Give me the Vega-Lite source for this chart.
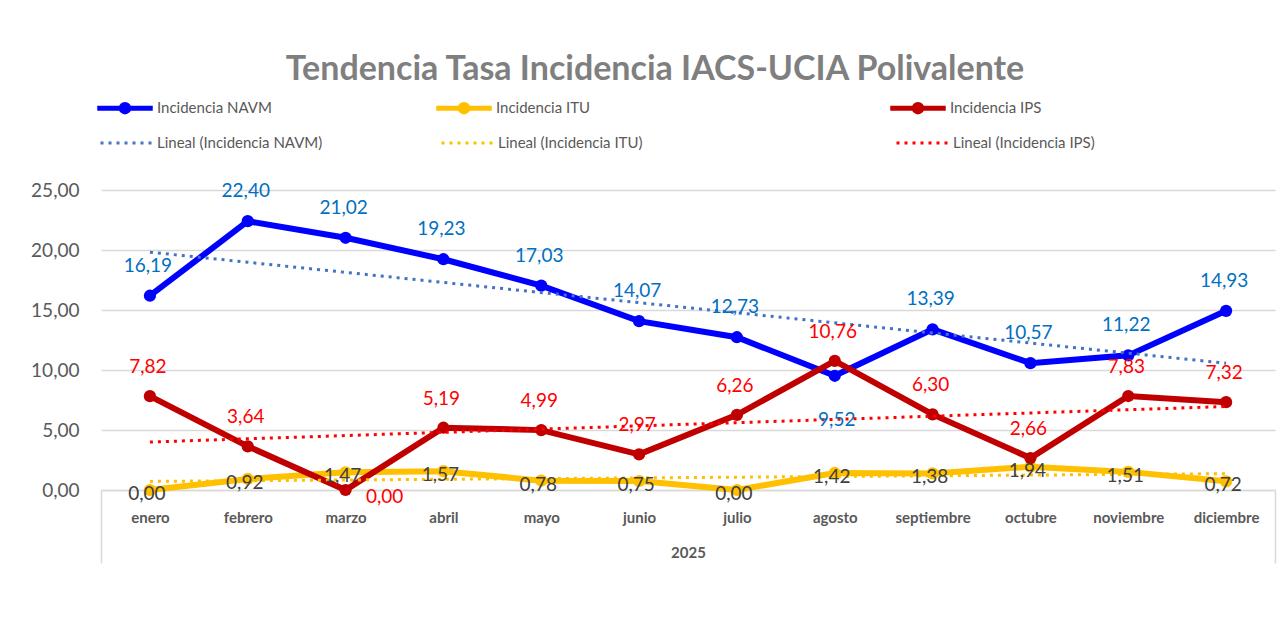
{
  "$schema": "https://vega.github.io/schema/vega-lite/v6.json",
  "autosize": {"type": "none"},
  "width": 1174,
  "height": 300,
  "padding": {"left": 101, "top": 190, "right": 9, "bottom": 149},
  "background": "white",
  "title": {"text": "Tendencia Tasa Incidencia IACS-UCIA Polivalente", "font": "Lato", "fontSize": 34, "fontWeight": "bold", "color": "#7F7F7F", "anchor": "middle", "offset": 11, "dx": -33},
  "config": {
    "locale": {"number": {"decimal": ",", "thousands": ".", "grouping": [3], "currency": ["", " €"]}},
    "view": {"stroke": null},
    "font": "Lato"
  },
  "data": {"values": [
    {"mes": "enero", "idx": 1, "serie": "Incidencia NAVM", "tendencia": "Lineal (Incidencia NAVM)", "valor": 16.19},
    {"mes": "febrero", "idx": 2, "serie": "Incidencia NAVM", "tendencia": "Lineal (Incidencia NAVM)", "valor": 22.40},
    {"mes": "marzo", "idx": 3, "serie": "Incidencia NAVM", "tendencia": "Lineal (Incidencia NAVM)", "valor": 21.02},
    {"mes": "abril", "idx": 4, "serie": "Incidencia NAVM", "tendencia": "Lineal (Incidencia NAVM)", "valor": 19.23},
    {"mes": "mayo", "idx": 5, "serie": "Incidencia NAVM", "tendencia": "Lineal (Incidencia NAVM)", "valor": 17.03},
    {"mes": "junio", "idx": 6, "serie": "Incidencia NAVM", "tendencia": "Lineal (Incidencia NAVM)", "valor": 14.07},
    {"mes": "julio", "idx": 7, "serie": "Incidencia NAVM", "tendencia": "Lineal (Incidencia NAVM)", "valor": 12.73},
    {"mes": "agosto", "idx": 8, "serie": "Incidencia NAVM", "tendencia": "Lineal (Incidencia NAVM)", "valor": 9.52},
    {"mes": "septiembre", "idx": 9, "serie": "Incidencia NAVM", "tendencia": "Lineal (Incidencia NAVM)", "valor": 13.39},
    {"mes": "octubre", "idx": 10, "serie": "Incidencia NAVM", "tendencia": "Lineal (Incidencia NAVM)", "valor": 10.57},
    {"mes": "noviembre", "idx": 11, "serie": "Incidencia NAVM", "tendencia": "Lineal (Incidencia NAVM)", "valor": 11.22},
    {"mes": "diciembre", "idx": 12, "serie": "Incidencia NAVM", "tendencia": "Lineal (Incidencia NAVM)", "valor": 14.93},
    {"mes": "enero", "idx": 1, "serie": "Incidencia ITU", "tendencia": "Lineal (Incidencia ITU)", "valor": 0.00},
    {"mes": "febrero", "idx": 2, "serie": "Incidencia ITU", "tendencia": "Lineal (Incidencia ITU)", "valor": 0.92},
    {"mes": "marzo", "idx": 3, "serie": "Incidencia ITU", "tendencia": "Lineal (Incidencia ITU)", "valor": 1.47},
    {"mes": "abril", "idx": 4, "serie": "Incidencia ITU", "tendencia": "Lineal (Incidencia ITU)", "valor": 1.57},
    {"mes": "mayo", "idx": 5, "serie": "Incidencia ITU", "tendencia": "Lineal (Incidencia ITU)", "valor": 0.78},
    {"mes": "junio", "idx": 6, "serie": "Incidencia ITU", "tendencia": "Lineal (Incidencia ITU)", "valor": 0.75},
    {"mes": "julio", "idx": 7, "serie": "Incidencia ITU", "tendencia": "Lineal (Incidencia ITU)", "valor": 0.00},
    {"mes": "agosto", "idx": 8, "serie": "Incidencia ITU", "tendencia": "Lineal (Incidencia ITU)", "valor": 1.42},
    {"mes": "septiembre", "idx": 9, "serie": "Incidencia ITU", "tendencia": "Lineal (Incidencia ITU)", "valor": 1.38},
    {"mes": "octubre", "idx": 10, "serie": "Incidencia ITU", "tendencia": "Lineal (Incidencia ITU)", "valor": 1.94},
    {"mes": "noviembre", "idx": 11, "serie": "Incidencia ITU", "tendencia": "Lineal (Incidencia ITU)", "valor": 1.51},
    {"mes": "diciembre", "idx": 12, "serie": "Incidencia ITU", "tendencia": "Lineal (Incidencia ITU)", "valor": 0.72},
    {"mes": "enero", "idx": 1, "serie": "Incidencia IPS", "tendencia": "Lineal (Incidencia IPS)", "valor": 7.82},
    {"mes": "febrero", "idx": 2, "serie": "Incidencia IPS", "tendencia": "Lineal (Incidencia IPS)", "valor": 3.64},
    {"mes": "marzo", "idx": 3, "serie": "Incidencia IPS", "tendencia": "Lineal (Incidencia IPS)", "valor": 0.00},
    {"mes": "abril", "idx": 4, "serie": "Incidencia IPS", "tendencia": "Lineal (Incidencia IPS)", "valor": 5.19},
    {"mes": "mayo", "idx": 5, "serie": "Incidencia IPS", "tendencia": "Lineal (Incidencia IPS)", "valor": 4.99},
    {"mes": "junio", "idx": 6, "serie": "Incidencia IPS", "tendencia": "Lineal (Incidencia IPS)", "valor": 2.97},
    {"mes": "julio", "idx": 7, "serie": "Incidencia IPS", "tendencia": "Lineal (Incidencia IPS)", "valor": 6.26},
    {"mes": "agosto", "idx": 8, "serie": "Incidencia IPS", "tendencia": "Lineal (Incidencia IPS)", "valor": 10.76},
    {"mes": "septiembre", "idx": 9, "serie": "Incidencia IPS", "tendencia": "Lineal (Incidencia IPS)", "valor": 6.30},
    {"mes": "octubre", "idx": 10, "serie": "Incidencia IPS", "tendencia": "Lineal (Incidencia IPS)", "valor": 2.66},
    {"mes": "noviembre", "idx": 11, "serie": "Incidencia IPS", "tendencia": "Lineal (Incidencia IPS)", "valor": 7.83},
    {"mes": "diciembre", "idx": 12, "serie": "Incidencia IPS", "tendencia": "Lineal (Incidencia IPS)", "valor": 7.32}
  ]},
  "encoding": {
    "x": {"field": "idx", "type": "quantitative", "scale": {"domain": [0.5, 12.5], "nice": false, "zero": false},
      "axis": {"values": [0.5, 1, 2, 3, 4, 5, 6, 7, 8, 9, 10, 11, 12, 12.5],
        "labelExpr": "datum.value < 1 || datum.value > 12 ? '' : ['enero','febrero','marzo','abril','mayo','junio','julio','agosto','septiembre','octubre','noviembre','diciembre'][datum.value - 1]",
        "grid": false, "domainColor": "#D9D9D9", "domainWidth": 1.5,
        "tickSize": 73, "tickColor": {"condition": {"test": "datum.value < 1 || datum.value > 12", "value": "#D9D9D9"}, "value": "transparent"}, "tickWidth": 1.5,
        "labelFont": "Lato", "labelFontSize": 15, "labelFontWeight": "bold", "labelColor": "#595959", "labelPadding": -53, "labelFlush": false, "labelOverlap": false,
        "title": "2025", "titleFont": "Lato", "titleFontSize": 15, "titleFontWeight": "bold", "titleColor": "#595959", "titlePadding": -18}},
    "y": {"field": "valor", "type": "quantitative", "scale": {"domain": [0, 25], "nice": false},
      "axis": {"values": [0, 5, 10, 15, 20, 25], "format": ".2f", "grid": true, "gridColor": "#D9D9D9", "gridWidth": 1.5, "domain": false, "ticks": false,
        "labelFont": "Lato", "labelFontSize": 19, "labelColor": "#595959", "labelPadding": 22, "title": null}}
  },
  "layer": [
    {
      "mark": {"type": "line", "strokeWidth": 6},
      "encoding": {
        "color": {"field": "serie", "type": "nominal",
          "scale": {"domain": ["Incidencia NAVM", "Incidencia ITU", "Incidencia IPS"], "range": ["#0000FF", "#FFC000", "#C00000"]},
          "legend": {"title": null, "orient": "none", "legendX": -8, "legendY": -92, "columns": 3, "direction": "horizontal", "gridAlign": "each",
            "columnPadding": 154, "symbolSize": 225, "symbolOffset": 22, "labelOffset": 22,
            "symbolType": "M-3.7,0H3.7M-0.5,0A0.5,0.5 0 1,0 0.5,0A0.5,0.5 0 1,0 -0.5,0Z", "symbolStrokeWidth": 5,
            "labelFont": "Lato", "labelFontSize": 15, "labelColor": "#595959", "labelLimit": 700,
            "labelExpr": "indexof(datum.label, 'ITU') >= 0 ? datum.label + '\u2003\u2003\u2003\u2003\u2003\u2003\u2003\u2003\u2003\u2003\u2003\u2003\u200b' : datum.label"}}
      }
    },
    {
      "mark": {"type": "point", "filled": true, "size": 150, "opacity": 1},
      "encoding": {"color": {"field": "serie", "type": "nominal"}}
    },
    {
      "transform": [{"regression": "valor", "on": "idx", "groupby": ["tendencia"], "method": "linear"}],
      "mark": {"type": "line", "strokeWidth": 3, "strokeDash": [3, 5]},
      "encoding": {"stroke": {"field": "tendencia", "type": "nominal",
        "scale": {"domain": ["Lineal (Incidencia NAVM)", "Lineal (Incidencia ITU)", "Lineal (Incidencia IPS)"], "range": ["#4472C4", "#FFC000", "#FF0000"]},
        "legend": {"title": null, "orient": "none", "legendX": -6, "legendY": -56, "columns": 3, "direction": "horizontal", "gridAlign": "each",
          "columnPadding": 112, "symbolSize": 225, "symbolOffset": 22, "labelOffset": 22,
          "symbolType": "M-3.4,0H3.4", "symbolStrokeWidth": 3, "symbolDash": [3, 5],
          "labelFont": "Lato", "labelFontSize": 15, "labelColor": "#595959", "labelLimit": 700,
          "labelExpr": "indexof(datum.label, 'ITU') >= 0 ? datum.label + '\u2003\u2003\u2003\u2003\u2003\u2003\u2003\u2003\u2003\u2003\u2003\u2003\u200b' : datum.label"}}}
    },
    {
      "transform": [{"filter": "datum.serie == 'Incidencia NAVM' && datum.mes != 'agosto'"}],
      "mark": {"type": "text", "font": "Lato", "fontSize": 19, "color": "#0070C0", "dy": -30, "dx": -2},
      "encoding": {"text": {"field": "valor", "type": "quantitative", "format": ".2f"}}
    },
    {
      "transform": [{"filter": "datum.serie == 'Incidencia NAVM' && datum.mes == 'agosto'"}],
      "mark": {"type": "text", "font": "Lato", "fontSize": 19, "color": "#0070C0", "dy": 44, "dx": 2},
      "encoding": {"text": {"field": "valor", "type": "quantitative", "format": ".2f"}}
    },
    {
      "transform": [{"filter": "datum.serie == 'Incidencia IPS' && datum.mes != 'marzo'"}],
      "mark": {"type": "text", "font": "Lato", "fontSize": 19, "color": "#FF0000", "dy": -29, "dx": -2},
      "encoding": {"text": {"field": "valor", "type": "quantitative", "format": ".2f"}}
    },
    {
      "transform": [{"filter": "datum.serie == 'Incidencia IPS' && datum.mes == 'marzo'"}],
      "mark": {"type": "text", "font": "Lato", "fontSize": 19, "color": "#FF0000", "dy": 7, "dx": 39},
      "encoding": {"text": {"field": "valor", "type": "quantitative", "format": ".2f"}}
    },
    {
      "transform": [{"filter": "datum.serie == 'Incidencia ITU'"}],
      "mark": {"type": "text", "font": "Lato", "fontSize": 19, "color": "#404040", "dy": 4, "dx": -3},
      "encoding": {"text": {"field": "valor", "type": "quantitative", "format": ".2f"}}
    }
  ]
}
